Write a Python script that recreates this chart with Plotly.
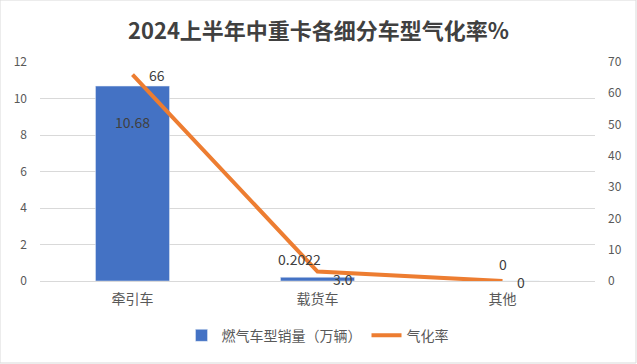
import plotly.graph_objects as go

categories = ["牵引车", "载货车", "其他"]
sales = [10.68, 0.2022, 0]
rate = [66, 3.0, 0]
sales_labels = ["10.68", "0.2022", "0"]
rate_labels = ["66", "3.0", "0"]

FONT = "Noto Sans CJK SC, Open Sans, sans-serif"

fig = go.Figure()
fig.add_trace(go.Bar(x=categories, y=sales, name="燃气车型销量（万辆）",
                     marker_color="#4472C4", yaxis="y"))
fig.add_trace(go.Scatter(x=categories, y=rate, name="气化率", mode="lines",
                         line=dict(color="#ED7D31", width=4), yaxis="y2"))

ann = []
bar_shift = [(0, -36), (-18, 18), (0, 17)]
for c, v, t, (dx, dy) in zip(categories, sales, sales_labels, bar_shift):
    ann.append(dict(x=c, y=v, xref="x", yref="y", text=t, showarrow=False,
                    xshift=dx, yshift=dy, font=dict(size=14, color="#404040")))
line_shift = [(24, 0), (25, -7), (18, -1)]
for c, v, t, (dx, dy) in zip(categories, rate, rate_labels, line_shift):
    ann.append(dict(x=c, y=v, xref="x", yref="y2", text=t, showarrow=False,
                    xshift=dx, yshift=dy, font=dict(size=14, color="#404040")))

fig.update_layout(
    width=637, height=364,
    margin=dict(l=40, r=42, t=62, b=83),
    paper_bgcolor="white", plot_bgcolor="white",
    font=dict(family=FONT, color="#595959", size=12),
    title=dict(text="<b>2024上半年中重卡各细分车型气化率%</b>", x=0.5, xanchor="center",
               y=0.915, yanchor="middle", font=dict(size=22, color="#404040")),
    bargap=0.6,
    showlegend=True,
    legend=dict(orientation="h", x=0.5, xanchor="center", y=-0.25, yanchor="middle",
                font=dict(size=14, color="#595959")),
    xaxis=dict(showline=True, linecolor="#D9D9D9", ticks="", tickfont=dict(size=14),
               ticklabelstandoff=5),
    yaxis=dict(range=[0, 12], dtick=2, showgrid=True, gridcolor="#D9D9D9",
               zeroline=False, tickfont=dict(size=12), ticklabelstandoff=12),
    yaxis2=dict(range=[0, 70], dtick=10, overlaying="y", side="right",
                showgrid=False, zeroline=False, tickfont=dict(size=12), ticklabelstandoff=12),
    annotations=ann,
    shapes=[dict(type="rect", xref="paper", yref="paper", x0=-40/555, x1=1+41/555,
                 y0=-82/219, y1=1+62/219, line=dict(color="#D9D9D9", width=1))],
)

fig.write_html("out.html", config={"displayModeBar": False},
               post_script="document.body.style.margin='0';document.documentElement.style.overflow='hidden';")
